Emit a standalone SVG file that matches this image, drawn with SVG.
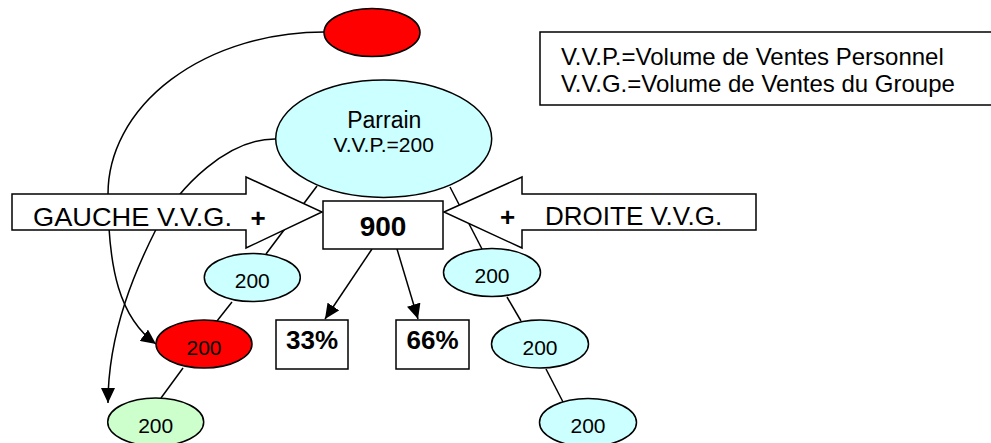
<svg xmlns="http://www.w3.org/2000/svg" width="991" height="443" viewBox="0 0 991 443">
<style>
text{font-family:"Liberation Sans",Arial,sans-serif;fill:#000}
.ln{fill:none;stroke:#000;stroke-width:1.5}
.sh{stroke:#000;stroke-width:1.5}
.cy{fill:#CCFFFF}
.rd{fill:#FF0000}
.gr{fill:#CCFFCC}
.wh{fill:#FFFFFF}
.n{font-size:21px;text-anchor:middle}
.b{font-weight:bold;text-anchor:middle}
.lg{font-size:24px}
</style>
<defs>
<marker id="ah" markerUnits="userSpaceOnUse" markerWidth="16" markerHeight="14" refX="15" refY="7" orient="auto">
<path d="M0,0 L15,7 L0,14 z" fill="#000"/>
</marker>
</defs>
<rect width="991" height="443" fill="#FFFFFF"/>
<g id="connectors">
<path class="ln" d="M317,186 L266,254"/>
<path class="ln" d="M450,187 L482,249"/>
<path class="ln" d="M232,302 L217,321"/>
<path class="ln" d="M183,368 L161,398"/>
<path class="ln" d="M507,297 L521,321"/>
<path class="ln" d="M546,369 L563,402"/>
<path class="ln" d="M324,32 A216,162 0 0 0 108,194 C108,270 120,318 156,344" marker-end="url(#ah)"/>
<path class="ln" d="M275,139 C228,139 180,185 155.7,230 C137.7,265.6 108,330 108,403" marker-end="url(#ah)"/>
<path class="ln" d="M372,249 L325,319" marker-end="url(#ah)"/>
<path class="ln" d="M397,249 L418,319" marker-end="url(#ah)"/>
</g>
<g id="legend">
<rect class="sh wh" x="540" y="32" width="470" height="73"/>
<text class="lg" x="561" y="64.7">V.V.P.=Volume de Ventes Personnel</text>
<text class="lg" x="561" y="92">V.V.G.=Volume de Ventes du Groupe</text>
</g>
<g id="gauche">
<polygon class="sh wh" points="12,194 246,194 246,177 322,212 246,248 246,230 12,230"/>
<text x="33" y="225.5" style="font-size:26px" textLength="199" lengthAdjust="spacingAndGlyphs">GAUCHE V.V.G.</text>
<text class="b" x="258" y="227" style="font-size:26px">+</text>
</g>
<g id="droite">
<polygon class="sh wh" points="444,212 522,177 522,194 756,194 756,230 522,230 522,248"/>
<text class="b" x="507.5" y="225.5" style="font-size:26px">+</text>
<text x="545" y="224.5" style="font-size:26px">DROITE V.V.G.</text>
</g>
<g id="top-red">
<ellipse class="sh rd" cx="372" cy="32.5" rx="48" ry="24"/>
</g>
<g id="parrain">
<ellipse class="sh cy" cx="383.7" cy="138.7" rx="108" ry="58.7"/>
<text x="384.3" y="127.8" style="font-size:23px;text-anchor:middle">Parrain</text>
<text x="383.7" y="151.7" style="font-size:21px;text-anchor:middle">V.V.P.=200</text>
</g>
<g id="total">
<rect class="sh wh" x="323" y="201" width="120" height="48"/>
<text class="b" x="383" y="236" style="font-size:28px">900</text>
</g>
<g id="left1">
<ellipse class="sh cy" cx="252.3" cy="277.5" rx="48" ry="24"/>
<text class="n" x="252.3" y="288.3">200</text>
</g>
<g id="left2">
<ellipse class="sh rd" cx="204" cy="344" rx="48" ry="24"/>
<text class="n" x="204" y="355">200</text>
</g>
<g id="left3">
<ellipse class="sh gr" cx="155.7" cy="422" rx="48" ry="24"/>
<text class="n" x="155.7" y="432.5">200</text>
</g>
<g id="right1">
<ellipse class="sh cy" cx="492" cy="272.5" rx="48.5" ry="24"/>
<text class="n" x="492" y="283.3">200</text>
</g>
<g id="right2">
<ellipse class="sh cy" cx="540" cy="344" rx="48.5" ry="24"/>
<text class="n" x="540" y="355">200</text>
</g>
<g id="right3">
<ellipse class="sh cy" cx="588" cy="422.5" rx="48.5" ry="24"/>
<text class="n" x="588" y="433">200</text>
</g>
<g id="pct33">
<rect class="sh wh" x="276" y="320" width="72" height="49"/>
<text class="b" x="312" y="349.3" style="font-size:26px">33%</text>
</g>
<g id="pct66">
<rect class="sh wh" x="396" y="320" width="73" height="49"/>
<text class="b" x="432.5" y="349.3" style="font-size:26px">66%</text>
</g>
</svg>
